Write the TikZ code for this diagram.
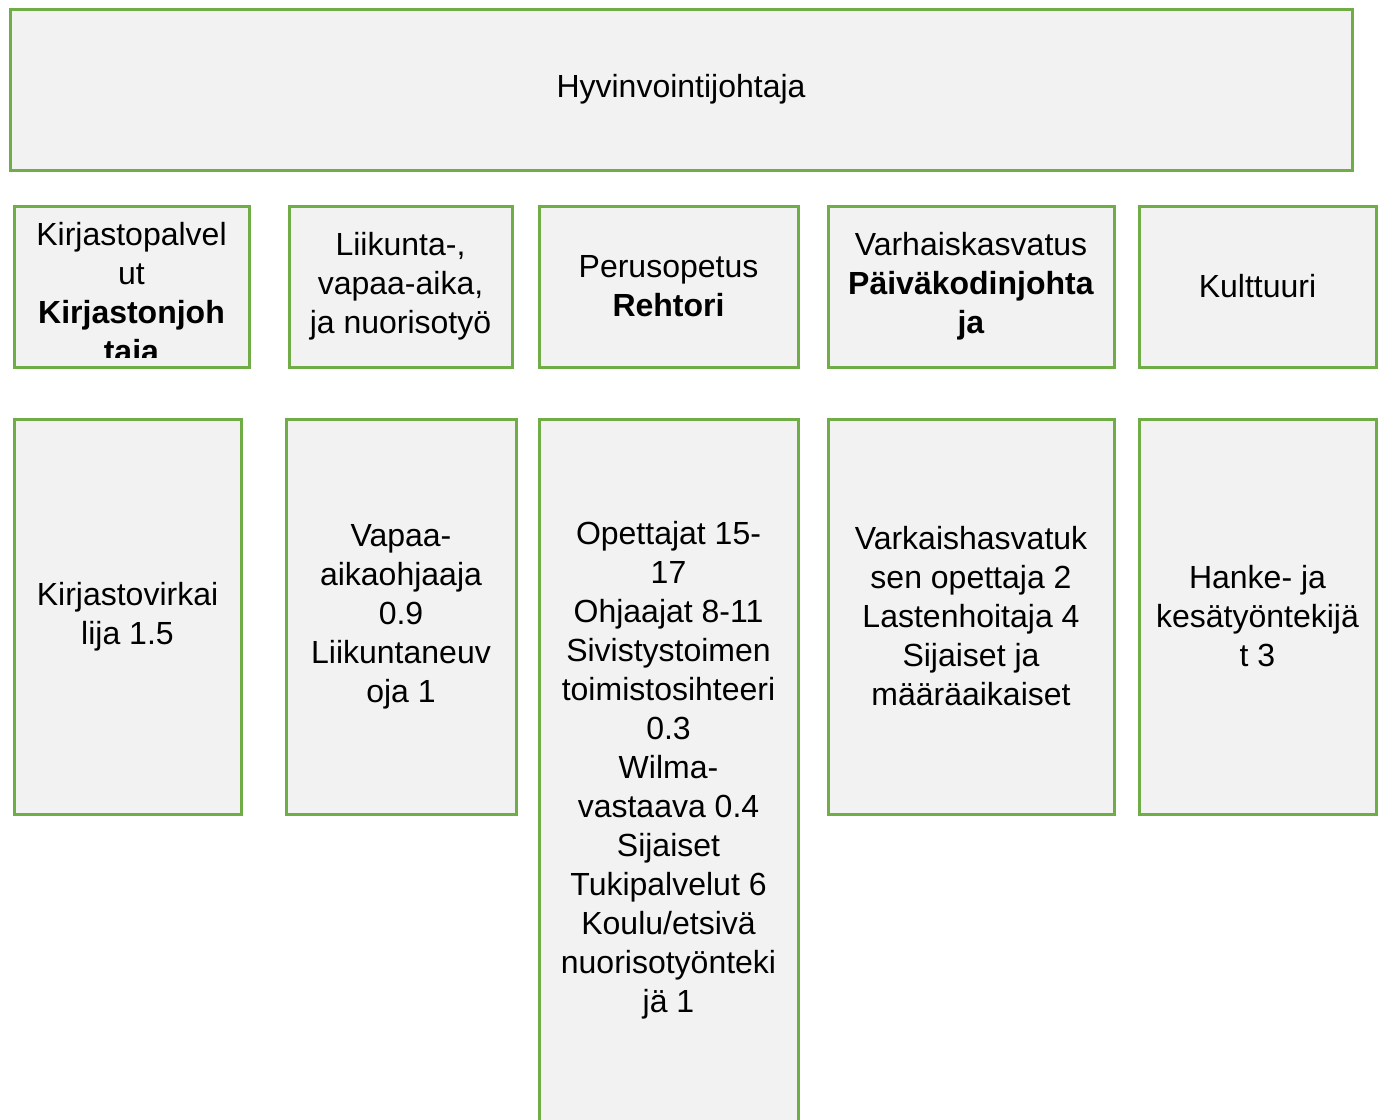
\documentclass[tikz,border=0pt]{standalone}
\usepackage{fontspec}
\setmainfont{Liberation Sans}
\definecolor{boxgreen}{HTML}{70AD47}
\definecolor{boxgray}{HTML}{F2F2F2}
\begin{document}
\begin{tikzpicture}[x=1pt,y=-1pt,
    orgbox/.style={draw=boxgreen, fill=boxgray, line width=3pt, inner sep=0pt,
      align=center, font=\fontsize{32}{39}\selectfont},
    orgtext/.style={inner sep=0pt, align=center, font=\fontsize{32}{39}\selectfont}]
    \useasboundingbox (0,0) rectangle (1383,1119);
    \clip (0,0) rectangle (1383,1119);

    \node[orgbox, minimum width=1342pt, minimum height=161pt] (hyv) at (681,89.5) {Hyvinvointijohtaja};

    \node[orgbox, minimum width=235pt, minimum height=161pt] (kirj) at (131.5,286.5) {};
    \begin{scope}
        \clip (15,207) rectangle (248,357);
        \node[orgtext] (kirjtxt) at (131.5,296) {Kirjastopalvel\\ut\\\textbf{Kirjastonjoh}\\\textbf{taja}};
    \end{scope}
    \node[orgbox, minimum width=223pt, minimum height=161pt] (liik) at (400.5,286.5) {Liikunta-,\\vapaa-aika,\\ja nuorisotyö};
    \node[orgbox, minimum width=259pt, minimum height=161pt] (peru) at (668.5,286.5) {Perusopetus\\\textbf{Rehtori}};
    \node[orgbox, minimum width=286pt, minimum height=161pt] (varh) at (971,286.5) {Varhaiskasvatus\\\textbf{Päiväkodinjohta}\\\textbf{ja}};
    \node[orgbox, minimum width=237pt, minimum height=161pt] (kult) at (1257.5,286.5) {Kulttuuri};

    \node[orgbox, minimum width=227pt, minimum height=395pt] (kirjvirk) at (127.5,616.5) {Kirjastovirkai\\lija 1.5};
    \node[orgbox, minimum width=230pt, minimum height=395pt] (vapaa) at (401,616.5) {Vapaa-\\aikaohjaaja\\0.9\\Liikuntaneuv\\oja 1};
    \node[orgbox, minimum width=259pt, minimum height=702pt] (opet) at (668.5,770) {Opettajat 15-\\17\\Ohjaajat 8-11\\Sivistystoimen\\toimistosihteeri\\0.3\\Wilma-\\vastaava 0.4\\Sijaiset\\Tukipalvelut 6\\Koulu/etsivä\\nuorisotyönteki\\jä 1};
    \node[orgbox, minimum width=286pt, minimum height=395pt] (varhope) at (971,616.5) {Varkaishasvatuk\\sen opettaja 2\\Lastenhoitaja 4\\Sijaiset ja\\määräaikaiset};
    \node[orgbox, minimum width=237pt, minimum height=395pt] (hanke) at (1257.5,616.5) {Hanke- ja\\kesätyöntekijä\\t 3};
\end{tikzpicture}
\end{document}
